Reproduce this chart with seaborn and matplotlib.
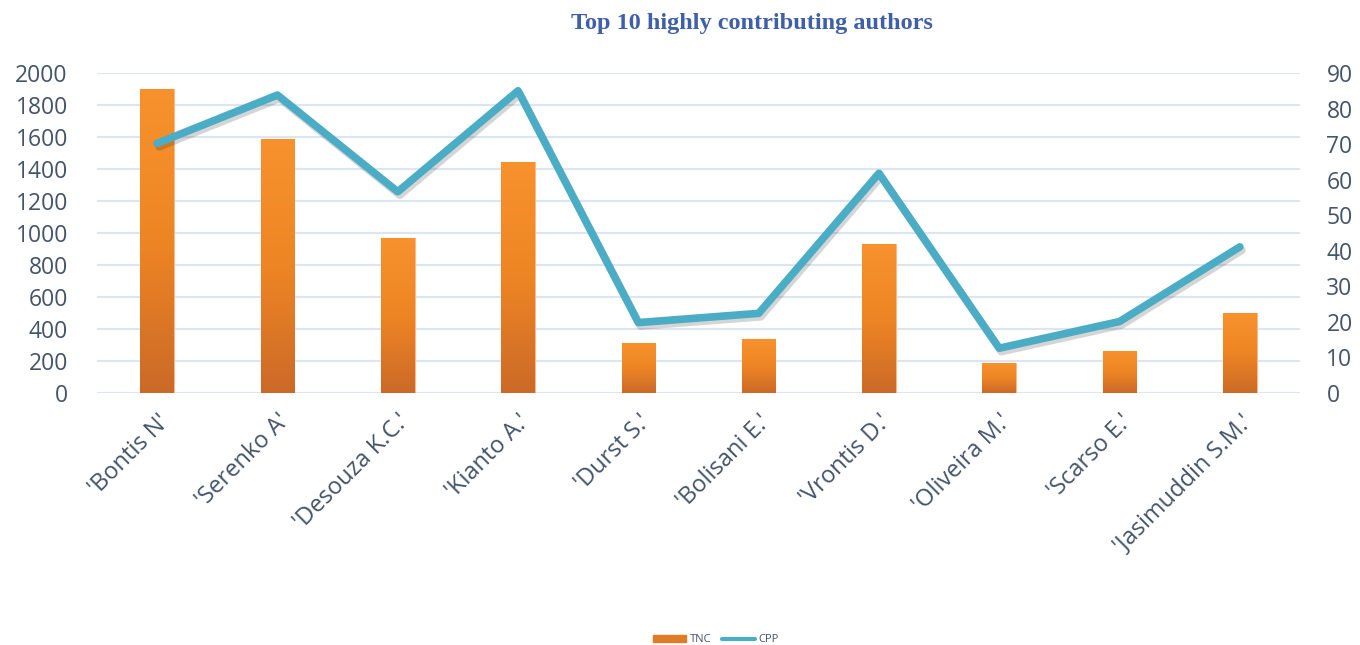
import numpy as np
import pandas as pd
import matplotlib
matplotlib.use("Agg")
import matplotlib.pyplot as plt
import matplotlib.patheffects as pe
from matplotlib.colors import LinearSegmentedColormap
from matplotlib.patches import Patch
from matplotlib.lines import Line2D
import seaborn as sns

authors = ["'Bontis N'", "'Serenko A'", "'Desouza K.C.'", "'Kianto A.'", "'Durst S.'",
           "'Bolisani E.'", "'Vrontis D.'", "'Oliveira M.'", "'Scarso E.'", "'Jasimuddin S.M.'"]
tnc = [1898, 1585, 971, 1446, 314, 335, 931, 185, 264, 498]
cpp = [70.2, 83.8, 56.6, 85.0, 19.8, 22.4, 61.8, 12.6, 20.1, 41.1]
left_ticks = [0, 200, 400, 600, 800, 1000, 1200, 1400, 1600, 1800, 2000]
right_ticks = [0, 10, 20, 30, 40, 50, 60, 70, 80, 90]

df = pd.DataFrame({"author": authors, "TNC": tnc, "CPP": cpp})

sns.set_theme(style="white")
plt.rcParams['font.family'] = ['Open Sans', 'DejaVu Sans']

txt = "#44546A"
grid_c = "#DCE6F2"
line_c = "#4BACC6"

fig = plt.figure(figsize=(13.6, 6.45), dpi=100)
ax = fig.add_axes([97/1360, 1 - 393/645, (1300-97)/1360, (393-73)/645])

sns.barplot(data=df, x="author", y="TNC", ax=ax, color="#EC8426", width=0.28,
            saturation=1, zorder=2)
ax.set_xlim(-0.5, 9.5)
ax.set_ylim(0, 2000)
ax.set_yticks(left_ticks)
ax.yaxis.grid(True, color=grid_c, lw=1.5, zorder=0)
ax.set_axisbelow(True)
for s in ax.spines.values():
    s.set_visible(False)
ax.set_xlabel("")
ax.set_ylabel("")
ax.tick_params(axis="y", labelsize=16.5, colors=txt, length=0, pad=21)
ax.tick_params(axis="x", labelsize=17, colors=txt, length=0, pad=12)
plt.setp(ax.get_xticklabels(), rotation=45, ha="right", rotation_mode="anchor")

# gradient fill for bars
cmap = LinearSegmentedColormap.from_list("og", ["#CB6A28", "#EE8524", "#F7922E"])
grad = np.linspace(0, 1, 256).reshape(-1, 1)
for p in ax.patches:
    x0, y0 = p.get_x(), p.get_y()
    w, h = p.get_width(), p.get_height()
    im = ax.imshow(grad, cmap=cmap, aspect="auto", origin="lower",
                   extent=[x0, x0 + w, y0, y0 + h], zorder=2)
    im.set_clip_path(p)
    p.set_edgecolor("#F9B98A")
    p.set_linewidth(0.8)
ax.set_xlim(-0.5, 9.5)
ax.set_ylim(0, 2000)

ax2 = ax.twinx()
sns.lineplot(data=df, x="author", y="CPP", ax=ax2, color=line_c, lw=5.5,
             sort=False, zorder=3,
             path_effects=[pe.SimpleLineShadow(offset=(1.5, -2.5), alpha=0.18), pe.Normal()])
ax2.set_ylim(0, 90)
ax2.set_yticks(right_ticks)
ax2.set_xlim(-0.5, 9.5)
for s in ax2.spines.values():
    s.set_visible(False)
ax2.set_ylabel("")
ax2.set_xlabel("")
ax2.grid(False)
ax2.tick_params(axis="y", labelsize=16.5, colors=txt, length=0, pad=19)

fig.text(752/1360, 1 - 24/645, "Top 10 highly contributing authors", ha="center", va="center",
         fontsize=17.5, fontweight="bold", color="#3F5FA8", family="Liberation Serif")

handles = [Patch(color="#E07B26", label="TNC"), Line2D([0], [0], color=line_c, lw=3, label="CPP")]
fig.legend(handles=handles, loc="center", bbox_to_anchor=(716/1360, 1 - 640/645), ncol=2,
           frameon=False, fontsize=8, labelcolor=txt, handlelength=3.0, handleheight=0.6,
           columnspacing=1.0, handletextpad=0.3, borderpad=0)

fig.savefig("out.png", dpi=100)
